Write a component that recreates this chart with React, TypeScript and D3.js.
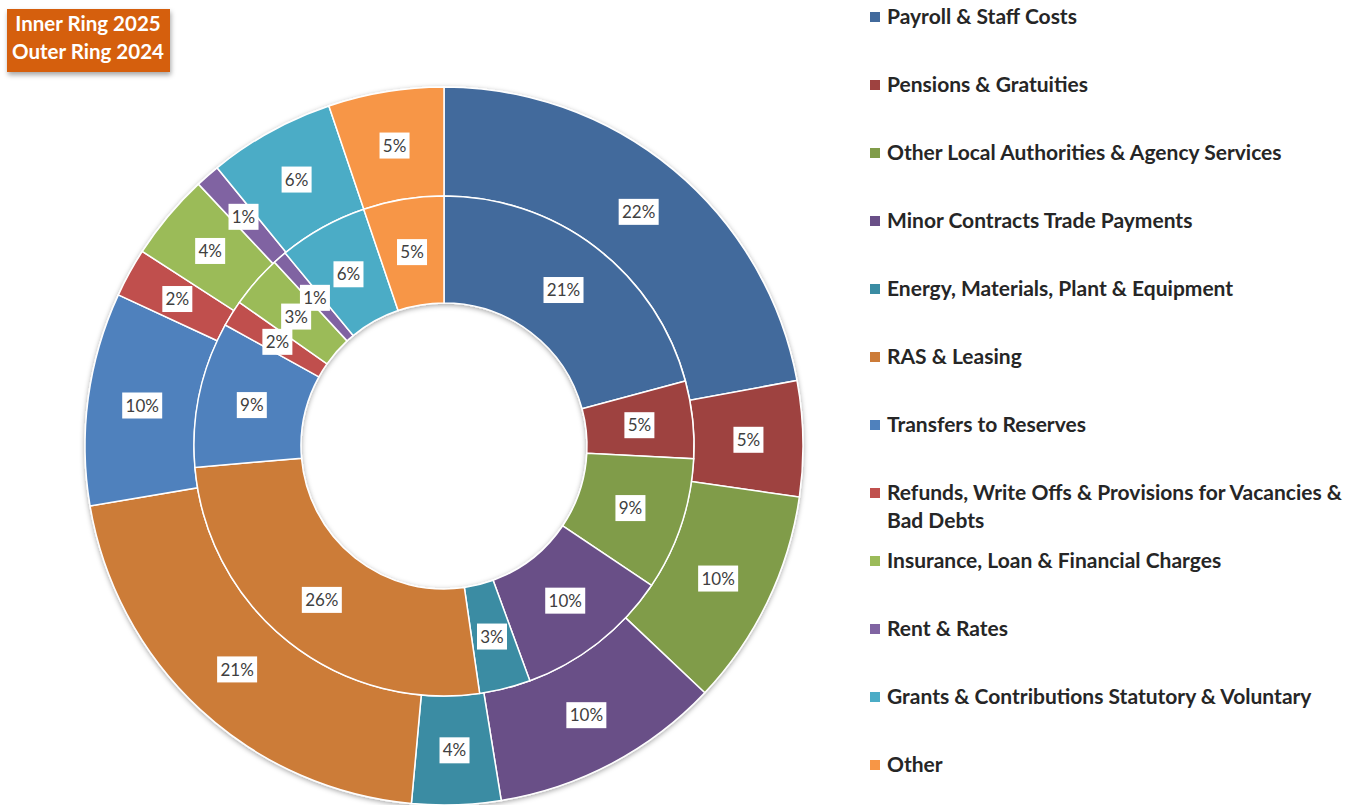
import React from "react";
import * as d3 from "d3";

const categories = [
  "Payroll & Staff Costs",
  "Pensions & Gratuities",
  "Other Local Authorities & Agency Services",
  "Minor Contracts Trade Payments",
  "Energy, Materials, Plant & Equipment",
  "RAS & Leasing",
  "Transfers to Reserves",
  "Refunds, Write Offs & Provisions for Vacancies & Bad Debts",
  "Insurance, Loan & Financial Charges",
  "Rent & Rates",
  "Grants & Contributions Statutory & Voluntary",
  "Other",
];

// Inner ring 2025 (% shares)
const values2025 = [20.8, 5.0, 8.6, 10.0, 3.3, 25.9, 9.4, 1.7, 3.4, 0.9, 5.75, 5.2];
// Outer ring 2024 (% shares)
const values2024 = [22.1, 5.2, 9.8, 10.4, 4.0, 20.9, 9.6, 2.2, 3.9, 1.1, 5.7, 5.2];

const colors = [
  "#426A9C", "#9E4240", "#809C49", "#694F87", "#3A8CA3", "#CC7B38",
  "#4F81BD", "#C0504D", "#9BBB59", "#8064A2", "#4BACC6", "#F79646",
];

const legendLines = [
  ["Payroll & Staff Costs"],
  ["Pensions & Gratuities"],
  ["Other Local Authorities & Agency Services"],
  ["Minor Contracts Trade Payments"],
  ["Energy, Materials, Plant & Equipment"],
  ["RAS & Leasing"],
  ["Transfers to Reserves"],
  ["Refunds, Write Offs & Provisions for Vacancies &", "Bad Debts"],
  ["Insurance, Loan & Financial Charges"],
  ["Rent & Rates"],
  ["Grants & Contributions Statutory & Voluntary"],
  ["Other"],
];

const W = 1349, H = 805;
const cx = 444, cy = 446;
const rHole = 143, rMid = 250, rOuter = 359;
const FONT = "Lato, 'Open Sans', sans-serif";

function Ring({ values, r0, r1 }: { values: number[]; r0: number; r1: number }) {
  const pie = d3.pie<number>().sort(null).startAngle(0).endAngle(2 * Math.PI);
  const arcs = pie(values);
  const arc = d3.arc<d3.PieArcDatum<number>>().innerRadius(r0).outerRadius(r1);
  return (
    <g>
      {arcs.map((a, i) => (
        <path key={i} d={arc(a) || ""} fill={colors[i]} stroke="#fff" strokeWidth={1.5} />
      ))}
    </g>
  );
}

function Labels({ values, r0, r1 }: { values: number[]; r0: number; r1: number }) {
  const pie = d3.pie<number>().sort(null).startAngle(0).endAngle(2 * Math.PI);
  const arcs = pie(values);
  const arc = d3.arc<d3.PieArcDatum<number>>().innerRadius(r0).outerRadius(r1);
  const total = d3.sum(values);
  return (
    <g>
      {arcs.map((a, i) => {
        const [x, y] = arc.centroid(a);
        const txt = d3.format(".0f")((a.data / total) * 100) + "%";
        const w = txt.length * 10 + 10;
        const h = 26;
        return (
          <g key={i} transform={`translate(${x},${y})`}>
            <rect x={-w / 2} y={-h / 2} width={w} height={h} fill="#fff" />
            <text textAnchor="middle" dy="0.36em" fontSize={17} fontFamily={FONT} fill="#404040">
              {txt}
            </text>
          </g>
        );
      })}
    </g>
  );
}

export default function App() {
  return (
    <svg width={W} height={H} style={{ position: "absolute", left: 0, top: 0, background: "#fff" }}>
      <defs>
        <filter id="sh" x="-10%" y="-10%" width="120%" height="120%">
          <feDropShadow dx="0" dy="1.5" stdDeviation="2.5" floodColor="#000" floodOpacity="0.35" />
        </filter>
        <filter id="sh2" x="-20%" y="-20%" width="140%" height="160%">
          <feDropShadow dx="1" dy="3" stdDeviation="2.5" floodColor="#000" floodOpacity="0.35" />
        </filter>
      </defs>
      <g transform={`translate(${cx},${cy})`}>
        <g filter="url(#sh)">
          <Ring values={values2024} r0={rMid} r1={rOuter} />
          <Ring values={values2025} r0={rHole} r1={rMid} />
        </g>
        <Labels values={values2024} r0={rMid} r1={rOuter} />
        <Labels values={values2025} r0={rHole} r1={rMid} />
      </g>

      <g filter="url(#sh2)">
        <rect x={7} y={9} width={163} height={63} fill="#D55E07" />
      </g>
      <text x={88} y={31} textAnchor="middle" fontSize={20.5} fontWeight="bold" fontFamily={FONT} fill="#fff">
        Inner Ring 2025
      </text>
      <text x={88} y={59} textAnchor="middle" fontSize={20.5} fontWeight="bold" fontFamily={FONT} fill="#fff">
        Outer Ring 2024
      </text>

      <g>
        {legendLines.map((lines, i) => {
          const y = 17 + i * 68;
          return (
            <g key={i}>
              <rect x={870} y={y - 5} width={10} height={10} fill={colors[i]} />
              {lines.map((ln, j) => (
                <text key={j} x={887} y={y + j * 28} dy="0.35em" fontSize={21} fontWeight="bold" fontFamily={FONT} fill="#262626">
                  {ln}
                </text>
              ))}
            </g>
          );
        })}
      </g>
    </svg>
  );
}
